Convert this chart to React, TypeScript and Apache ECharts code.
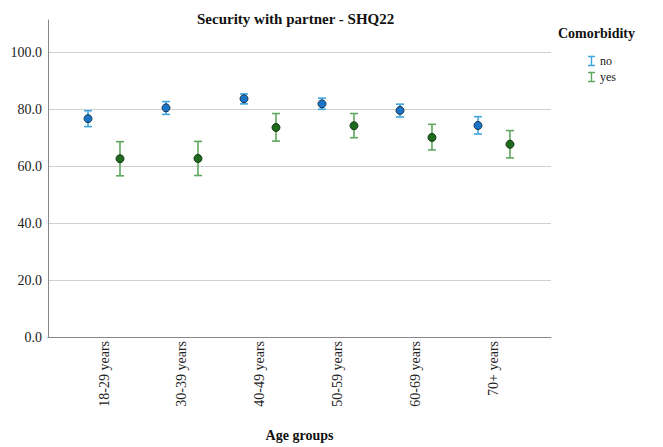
import React, { useEffect, useRef } from "react";
import * as echarts from "echarts";

const categories = ["18-29 years", "30-39 years", "40-49 years", "50-59 years", "60-69 years", "70+ years"];
const noMean = [76.8, 80.6, 83.8, 82.0, 79.7, 74.4];
const noLow = [74.0, 78.3, 82.0, 80.1, 77.4, 71.4];
const noHigh = [79.6, 82.8, 85.5, 84.0, 81.9, 77.5];
const yesMean = [62.7, 62.8, 73.7, 74.3, 70.2, 67.8];
const yesLow = [56.7, 56.8, 68.9, 70.1, 65.8, 63.0];
const yesHigh = [68.7, 68.8, 78.6, 78.6, 74.8, 72.6];
const yTicks = [0, 20, 40, 60, 80, 100];

const OFFSET = 0.205;
const FONT = "Liberation Serif";

function errorSeries(name: string, low: number[], high: number[], off: number, color: string) {
  return {
    name,
    type: "custom",
    data: categories.map((_, i) => [i + off, low[i], high[i]]),
    encode: { x: 0, y: [1, 2] },
    renderItem: (params: any, api: any) => {
      const x = api.value(0);
      const lo = api.coord([x, api.value(1)]);
      const hi = api.coord([x, api.value(2)]);
      const w = 4;
      const style = { stroke: color, lineWidth: 1.6 };
      return {
        type: "group",
        children: [
          { type: "line", shape: { x1: hi[0], y1: hi[1], x2: lo[0], y2: lo[1] }, style },
          { type: "line", shape: { x1: hi[0] - w, y1: hi[1], x2: hi[0] + w, y2: hi[1] }, style },
          { type: "line", shape: { x1: lo[0] - w, y1: lo[1], x2: lo[0] + w, y2: lo[1] }, style },
        ],
      };
    },
    z: 2,
  };
}

function pointSeries(name: string, mean: number[], off: number, fill: string, stroke: string) {
  return {
    name,
    type: "scatter",
    data: categories.map((_, i) => [i + off, mean[i]]),
    symbol: "circle",
    symbolSize: 8,
    itemStyle: { color: fill, borderColor: stroke, borderWidth: 1, opacity: 1 },
    z: 3,
  };
}

export default function App() {
  const ref = useRef<HTMLDivElement>(null);
  useEffect(() => {
    if (!ref.current) return;
    const chart = echarts.init(ref.current, null, { renderer: "svg" });
    const Ipath = "path://M0,0H8V1.6H4.8V10.4H8V12H0V10.4H3.2V1.6H0Z";
    chart.setOption({
      animation: false,
      backgroundColor: "#fff",
      textStyle: { fontFamily: FONT },
      title: {
        text: "Security with partner - SHQ22",
        left: 192,
        top: 6,
        textStyle: { fontFamily: FONT, fontSize: 15, fontWeight: "bold", color: "#111" },
      },
      graphic: [
        {
          type: "text",
          left: 558,
          top: 26,
          style: { text: "Comorbidity", fontFamily: FONT, fontSize: 14, fontWeight: "bold", fill: "#111" },
        },
      ],
      legend: {
        orient: "vertical",
        left: 583,
        top: 50,
        itemWidth: 7,
        itemHeight: 11,
        itemGap: 4,
        icon: Ipath,
        textStyle: { fontFamily: FONT, fontSize: 12, color: "#222" },
        data: [
          { name: "no", itemStyle: { color: "#3fa4e0" } },
          { name: "yes", itemStyle: { color: "#5ea75e" } },
        ],
      },
      grid: { left: 48, right: 112, top: 20, bottom: 106 },
      xAxis: {
        type: "value",
        min: -0.718,
        max: 5.731,
        axisLine: { show: true, onZero: false, lineStyle: { color: "#888", width: 1 } },
        axisTick: { show: false, customValues: [0, 1, 2, 3, 4, 5] },
        splitLine: { show: false },
        axisLabel: {
          customValues: [0, 1, 2, 3, 4, 5],
          rotate: 90,
          margin: 4,
          fontFamily: FONT,
          fontSize: 14,
          color: "#222",
          formatter: (v: number) => categories[Math.round(v)] ?? "",
        },
        name: "Age groups",
        nameLocation: "middle",
        nameGap: 91,
        nameTextStyle: { fontFamily: FONT, fontSize: 14, fontWeight: "bold", color: "#111" },
      },
      yAxis: {
        type: "value",
        min: 0,
        max: 111.5,
        axisLine: { show: true, onZero: false, lineStyle: { color: "#888", width: 1 } },
        axisTick: { show: false, customValues: yTicks },
        splitLine: { show: true, lineStyle: { color: "#cfcfcf", width: 1.2 } },
        axisLabel: {
          customValues: yTicks,
          margin: 6,
          fontFamily: FONT,
          fontSize: 14,
          color: "#222",
          formatter: (v: number) => v.toFixed(1),
        },
      },
      series: [
        errorSeries("no", noLow, noHigh, -OFFSET, "#3fa4e0"),
        errorSeries("yes", yesLow, yesHigh, OFFSET, "#5ea75e"),
        pointSeries("no", noMean, -OFFSET, "#1a75c8", "#1b3550"),
        pointSeries("yes", yesMean, OFFSET, "#1e6b1e", "#153815"),
      ],
    });
    return () => chart.dispose();
  }, []);
  return <div ref={ref} style={{ position: "fixed", left: 0, top: 0, width: 663, height: 447 }} />;
}
